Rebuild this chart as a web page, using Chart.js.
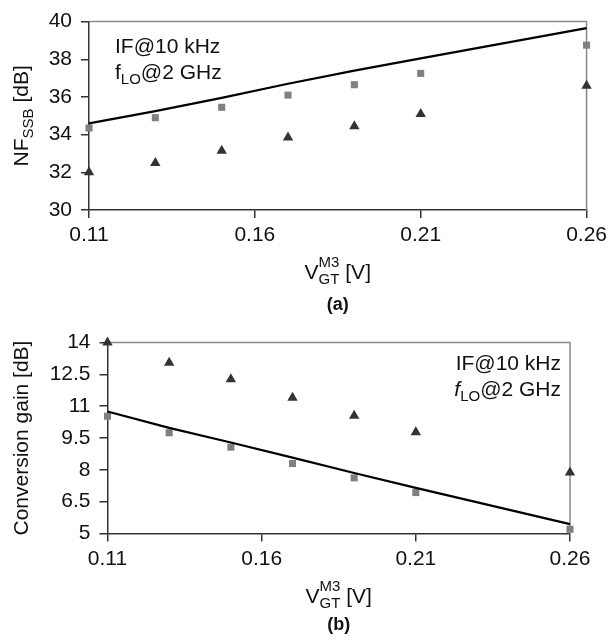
<!DOCTYPE html>
<html>
<head>
<meta charset="utf-8">
<script src="https://cdn.jsdelivr.net/npm/chart.js@4.4.0/dist/chart.umd.min.js"></script>
<style>
  html, body { margin: 0; padding: 0; background: #fff; }
  canvas { position: absolute; left: 0; }
</style>
</head>
<body>
<canvas id="nf" width="612" height="321" style="top:0"></canvas>
<canvas id="gain" width="612" height="322" style="top:321px"></canvas>
<script>
// gate-overdrive voltage of M3 (x axis, both panels)
const vgt = [0.11, 0.13, 0.15, 0.17, 0.19, 0.21, 0.26];
const xTicks = [0.11, 0.16, 0.21, 0.26];

// (a) noise figure
const nfSquares = [34.35, 34.9, 35.45, 36.1, 36.65, 37.25, 38.75];
const nfTriangles = [32.0, 32.5, 33.15, 33.85, 34.45, 35.1, 36.6];
const nfLine = [34.6, 35.25, 35.95, 36.7, 37.4, 38.05, 39.65];
const nfTicks = [30, 32, 34, 36, 38, 40];

// (b) conversion gain
const gainSquares = [10.53, 9.75, 9.07, 8.3, 7.62, 6.93, 5.2];
const gainTriangles = [14.0, 13.05, 12.27, 11.4, 10.55, 9.77, 7.88];
const gainLine = [10.75, 9.98, 9.29, 8.58, 7.85, 7.15, 5.44];
const gainTicks = [5, 6.5, 8, 9.5, 11, 12.5, 14];

const FONT = '"Liberation Sans", Arial, sans-serif';
const pts = ys => vgt.map((x, i) => ({ x: x, y: ys[i] }));

// text with sub/superscripts, drawn by hand
function drawParts(ctx, parts, x, y, align) {
  let total = 0;
  parts.forEach(p => {
    ctx.font = (p.style || '') + ' ' + p.size + 'px ' + FONT;
    p.w = ctx.measureText(p.t).width;
    if (!p.stack) total += p.w;
  });
  let cx = align === 'center' ? x - total / 2 : align === 'right' ? x - total : x;
  let stackW = 0;
  parts.forEach(p => {
    ctx.font = (p.style || '') + ' ' + p.size + 'px ' + FONT;
    ctx.fillText(p.t, cx, y + (p.dy || 0));
    if (p.stack) { stackW = p.w; return; }
    cx += Math.max(p.w, stackW);
    stackW = 0;
  });
}

const vgtTitle = [
  { t: 'V', size: 21 },
  { t: 'M3', size: 15, dy: -12, stack: true },
  { t: 'GT', size: 15, dy: 5 },
  { t: ' [V]', size: 21 }
];

const textPlugin = {
  id: 'texts',
  beforeDatasetsDraw(chart) {
    const a = chart.chartArea, ctx = chart.ctx;
    ctx.save();
    ctx.strokeStyle = '#8a8a8a';
    ctx.lineWidth = 1.5;
    ctx.beginPath();
    ctx.moveTo(a.left, a.top);
    ctx.lineTo(a.right, a.top);
    ctx.lineTo(a.right, a.bottom);
    ctx.stroke();
    ctx.restore();
  },
  afterDraw(chart, args, o) {
    const a = chart.chartArea, ctx = chart.ctx;
    ctx.save();
    ctx.fillStyle = '#111';
    ctx.textBaseline = 'alphabetic';
    ctx.textAlign = 'left';
    const cx = (a.left + a.right) / 2;
    drawParts(ctx, vgtTitle, cx, a.bottom + 69, 'center');
    drawParts(ctx, [{ t: o.tag, size: 18, style: 'bold' }], cx, a.bottom + o.tagY, 'center');
    ctx.save();
    ctx.translate(o.yTitleX, (a.top + a.bottom) / 2);
    ctx.rotate(-Math.PI / 2);
    drawParts(ctx, o.yTitle, 0, 0, 'center');
    ctx.restore();
    drawParts(ctx, [{ t: 'IF@10 kHz', size: 21 }], o.noteX, o.noteY, o.noteAlign);
    drawParts(ctx, [
      { t: 'f', size: 21, style: o.fStyle },
      { t: 'LO', size: 15, dy: 5 },
      { t: '@2 GHz', size: 21 }
    ], o.noteX, o.noteY + 26, o.noteAlign);
    ctx.restore();
  }
};

function makeChart(id, s) {
  new Chart(document.getElementById(id), {
    type: 'scatter',
    data: {
      datasets: [
        {
          data: pts(s.line), showLine: true, borderColor: '#000', borderWidth: 2.2,
          pointRadius: 0, tension: 0, clip: false
        },
        {
          data: pts(s.squares), pointStyle: 'rect', pointRadius: 5,
          backgroundColor: '#808080', borderColor: '#808080', borderWidth: 0, clip: false
        },
        {
          data: pts(s.triangles), pointStyle: 'triangle', pointRadius: 6,
          backgroundColor: '#333', borderColor: '#333', borderWidth: 0, clip: false
        }
      ]
    },
    options: {
      responsive: false,
      animation: false,
      events: [],
      layout: { padding: { left: 0, top: s.top, right: s.right, bottom: 0 } },
      plugins: {
        legend: { display: false },
        tooltip: { enabled: false },
        texts: s.texts
      },
      scales: {
        x: {
          type: 'linear', min: 0.11, max: 0.26,
          afterBuildTicks: sc => { sc.ticks = xTicks.map(v => ({ value: v })); },
          afterFit: sc => { sc.height = s.xHeight; },
          ticks: {
            color: '#111', font: { family: FONT, size: 21 }, padding: 5,
            callback: v => v.toFixed(2), maxRotation: 0
          },
          grid: { drawOnChartArea: false, tickLength: 8, color: '#333', lineWidth: 1.5 },
          border: { color: '#333', width: 1.5 }
        },
        y: {
          min: s.yTicks[0], max: s.yTicks[s.yTicks.length - 1],
          afterBuildTicks: sc => { sc.ticks = s.yTicks.map(v => ({ value: v })); },
          afterFit: sc => { sc.width = s.yWidth; },
          ticks: { color: '#111', font: { family: FONT, size: 21 }, padding: 9 },
          grid: { drawOnChartArea: false, tickLength: 8, color: '#333', lineWidth: 1.5 },
          border: { color: '#333', width: 1.5 }
        }
      }
    },
    plugins: [textPlugin]
  });
}

makeChart('nf', {
  line: nfLine, squares: nfSquares, triangles: nfTriangles, yTicks: nfTicks,
  top: 15, right: 24, yWidth: 89, xHeight: 111,
  texts: {
    tag: '(a)', tagY: 100, yTitleX: 28,
    yTitle: [{ t: 'NF', size: 21 }, { t: 'SSB', size: 15, dy: 5 }, { t: ' [dB]', size: 21 }],
    noteX: 115, noteY: 53, noteAlign: 'left', fStyle: ''
  }
});

makeChart('gain', {
  line: gainLine, squares: gainSquares, triangles: gainTriangles, yTicks: gainTicks,
  top: 21, right: 42, yWidth: 107.5, xHeight: 109.5,
  texts: {
    tag: '(b)', tagY: 96, yTitleX: 28,
    yTitle: [{ t: 'Conversion gain [dB]', size: 21 }],
    noteX: 561, noteY: 49, noteAlign: 'right', fStyle: 'italic'
  }
});
</script>
</body>
</html>
